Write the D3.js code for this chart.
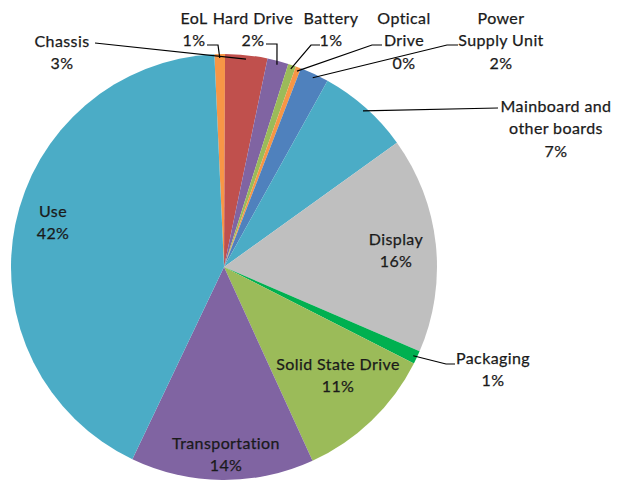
<!DOCTYPE html>
<html>
<head>
<meta charset="utf-8">
<script src="https://cdn.jsdelivr.net/npm/d3@7"></script>
<style>
  body { margin: 0; background: #fff; }
  svg text { font-family: Lato, "Open Sans", sans-serif; font-weight: 400; font-size: 16px; letter-spacing: 0.4px; fill: #1a1a1a; stroke: #1a1a1a; stroke-width: 0.25px; }
</style>
</head>
<body>
<div class="graph"></div>
<script>
// slices clockwise from the top
let names = ["EoL", "Chassis", "Hard Drive", "Battery", "Optical Drive", "Power Supply Unit",
    "Mainboard and other boards", "Display", "Packaging", "Solid State Drive", "Transportation", "Use"];
let shares = [0.8, 3.2, 1.6, 0.6, 0.4, 2.2, 7.0, 16.4, 1.0, 10.7, 13.9, 42.2];
let colors = ["#F79646", "#C0504D", "#8064A2", "#9BBB59", "#F79646", "#4F81BD",
    "#4BACC6", "#BFBFBF", "#00B050", "#9BBB59", "#8064A2", "#4BACC6"];

// text lines of each label (percent line is added from the data)
let labelLines = {
    "EoL": ["EoL"],
    "Chassis": ["Chassis"],
    "Hard Drive": ["Hard Drive"],
    "Battery": ["Battery"],
    "Optical Drive": ["Optical", "Drive"],
    "Power Supply Unit": ["Power", "Supply Unit"],
    "Mainboard and other boards": ["Mainboard and", "other boards"],
    "Display": ["Display"],
    "Packaging": ["Packaging"],
    "Solid State Drive": ["Solid State Drive"],
    "Transportation": ["Transportation"],
    "Use": ["Use"]
};

let width = 621, height = 483;
let cx = 224, cy = 267, radius = 213;
let startAngle = -2.6 * Math.PI / 180;
let lineH = 22.5;

// label placement: centre x, first line y, leader points near the label
let layout = {
    "EoL": {x: 194, y: 17, lead: [[207, 45], [218, 45]]},
    "Chassis": {x: 62, y: 40, lead: [[95, 43]]},
    "Hard Drive": {x: 253, y: 17, lead: [[266, 44], [277, 44]]},
    "Battery": {x: 331, y: 17, lead: [[320, 45], [311, 45]]},
    "Optical Drive": {x: 404, y: 17, lead: [[382, 45], [372, 45]]},
    "Power Supply Unit": {x: 501, y: 17, lead: [[458, 45], [447, 45]]},
    "Mainboard and other boards": {x: 556, y: 105, lead: [[498, 108]]},
    "Display": {x: 396, y: 238},
    "Packaging": {x: 493, y: 357, lead: [[455, 364], [446, 364]]},
    "Solid State Drive": {x: 338, y: 363},
    "Transportation": {x: 226, y: 442},
    "Use": {x: 53, y: 210}
};

let data = names.map((n, i) => ({name: n, value: shares[i], color: colors[i]}));

let pie = d3.pie()
    .sort(null)
    .startAngle(startAngle)
    .endAngle(startAngle + 2 * Math.PI)
    .value(d => d.value);

let arc = d3.arc()
    .innerRadius(0)
    .outerRadius(radius);

let arcs = pie(data);

let svg = d3.select(".graph")
    .append("svg")
    .attr("width", width)
    .attr("height", height);

svg.append("g")
    .attr("transform", "translate(" + cx + "," + cy + ")")
    .selectAll("path")
    .data(arcs)
    .join("path")
    .attr("fill", d => d.data.color)
    .attr("d", arc);

// leader lines
let tip = d => {
    let a = (d.startAngle + d.endAngle) / 2;
    let r = radius - 4;
    return [cx + r * Math.sin(a), cy - r * Math.cos(a)];
};

svg.append("g")
    .selectAll("path")
    .data(arcs.filter(d => layout[d.data.name].lead))
    .join("path")
    .attr("fill", "none")
    .attr("stroke", "#000")
    .attr("stroke-width", 1.2)
    .attr("d", d => d3.line()(layout[d.data.name].lead.concat([tip(d)])));

// labels
let labels = svg.append("g")
    .selectAll("text")
    .data(arcs)
    .join("text")
    .attr("text-anchor", "middle")
    .attr("x", d => layout[d.data.name].x)
    .attr("y", d => layout[d.data.name].y);

labels.selectAll("tspan")
    .data(d => labelLines[d.data.name].concat([Math.round(d.data.value) + "%"])
        .map((t, i) => ({t: t, i: i, p: layout[d.data.name]})))
    .join("tspan")
    .attr("x", d => d.p.x)
    .attr("y", d => d.p.y + d.i * lineH)
    .attr("dominant-baseline", "central")
    .text(d => d.t);
</script>
</body>
</html>
